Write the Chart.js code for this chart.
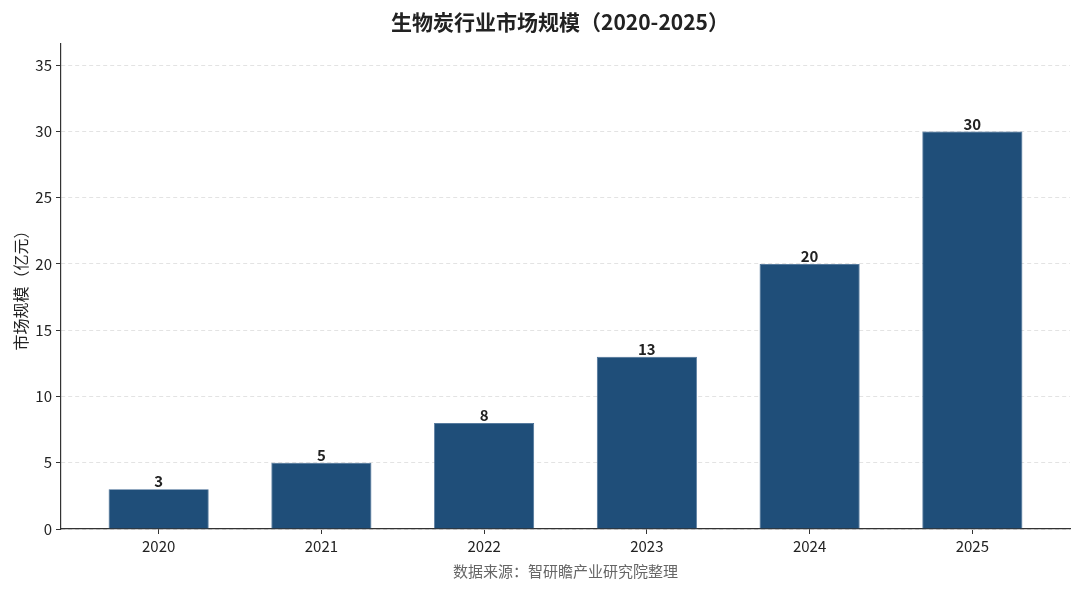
<!DOCTYPE html>
<html>
<head>
<meta charset="utf-8">
<script src="https://cdn.jsdelivr.net/npm/chart.js@4/dist/chart.umd.min.js"></script>
<style>
  html, body { margin: 0; padding: 0; background: #fff; }
  #wrap { width: 1080px; height: 589px; }
</style>
</head>
<body>
<div id="wrap"><canvas id="c"></canvas></div>
<script>
// 数据
const years = ['2020', '2021', '2022', '2023', '2024', '2025'];
const marketSize = [3, 5, 8, 13, 20, 30];
const yTicks = [0, 5, 10, 15, 20, 25, 30, 35];
const chartTitle = '生物炭行业市场规模（2020-2025）';

const FONT = '"Noto Sans CJK SC", "Noto Sans", sans-serif';

// 标题（居中于 x=560）
const titlePlugin = {
    id: 'figTitle',
    afterDraw(chart) {
        const ctx = chart.ctx;
        ctx.save();
        ctx.font = 'bold 21px ' + FONT;
        ctx.fillStyle = '#222';
        ctx.textAlign = 'center';
        ctx.textBaseline = 'middle';
        ctx.fillText(chartTitle, 560, 22);
        ctx.restore();
    }
};

// 柱顶数值标签
const valueLabels = {
    id: 'valueLabels',
    afterDatasetsDraw(chart) {
        const ctx = chart.ctx;
        const meta = chart.getDatasetMeta(0);
        ctx.save();
        ctx.font = 'bold 15px ' + FONT;
        ctx.fillStyle = '#222';
        ctx.textAlign = 'center';
        ctx.textBaseline = 'bottom';
        meta.data.forEach((bar, i) => {
            ctx.fillText(String(marketSize[i]), bar.x, bar.y);
        });
        ctx.restore();
    }
};

new Chart(document.getElementById('c'), {
    type: 'bar',
    data: {
        datasets: [{
            data: marketSize.map((v, i) => ({ x: i, y: v })),
            backgroundColor: '#1f4e79',
            borderColor: '#3d6690',
            borderWidth: 0.8,
            categoryPercentage: 1,
            barPercentage: 0.615
        }]
    },
    options: {
        responsive: true,
        maintainAspectRatio: false,
        animation: false,
        layout: { padding: { left: 0, right: 10, bottom: 8, top: 44 } },
        plugins: {
            legend: { display: false },
            tooltip: { enabled: false },
            title: { display: false }
        },
        scales: {
            x: {
                type: 'linear',
                min: -0.6,
                max: 5.6,
                offset: false,
                afterBuildTicks: s => { s.ticks = years.map((y, i) => ({ value: i })); },
                afterFit: s => { s.height = 52; },
                ticks: {
                    color: '#222',
                    font: { family: FONT, size: 15 },
                    padding: 3,
                    callback: v => years[v]
                },
                grid: { offset: false, drawOnChartArea: false, tickColor: '#333', tickLength: 5 },
                border: { color: '#333', width: 1.2 },
                title: {
                    display: true,
                    text: '数据来源：智研瞻产业研究院整理',
                    color: '#666',
                    font: { family: FONT, size: 15 },
                    padding: { top: 2, bottom: 1 }
                }
            },
            y: {
                min: 0,
                max: 36.6,
                afterBuildTicks: s => { s.ticks = yTicks.map(v => ({ value: v })); },
                afterFit: s => { s.width = 61; },
                ticks: {
                    color: '#222',
                    font: { family: FONT, size: 15 },
                    padding: 4
                },
                grid: { color: '#e3e3e3', lineWidth: 1, tickColor: '#333', tickLength: 5 },
                border: { color: '#333', width: 1.2, dash: [4, 3] },
                title: {
                    display: true,
                    text: '市场规模（亿元）',
                    color: '#222',
                    font: { family: FONT, size: 16 },
                    padding: { top: 11, bottom: 0 }
                }
            }
        }
    },
    plugins: [valueLabels, titlePlugin]
});
</script>
</body>
</html>
